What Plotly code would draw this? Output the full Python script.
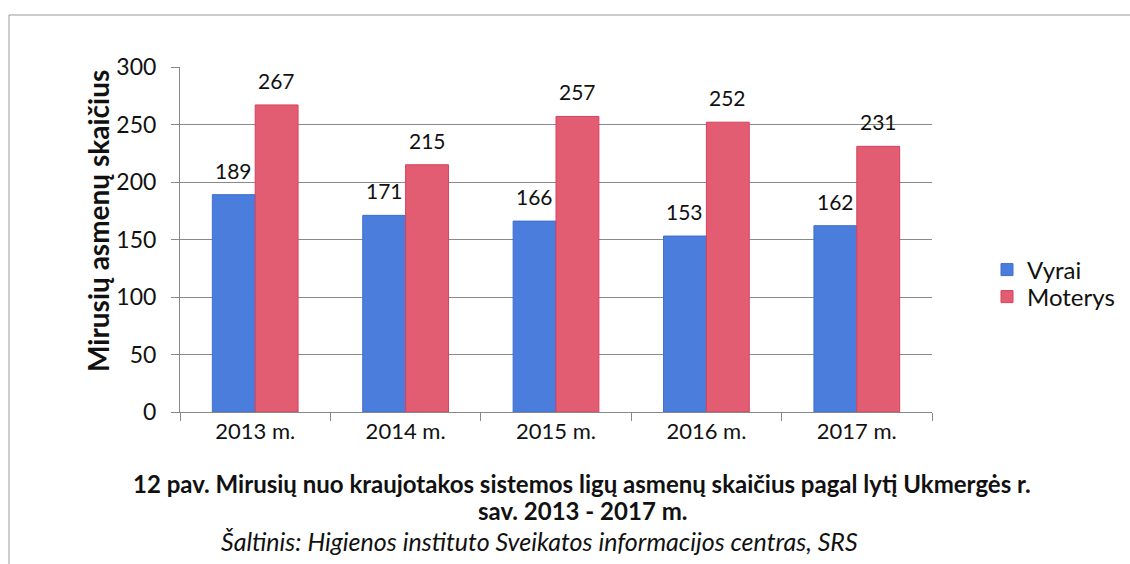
import plotly.graph_objects as go

categories = ["2013 m.", "2014 m.", "2015 m.", "2016 m.", "2017 m."]
vyrai = [189, 171, 166, 153, 162]
moterys = [267, 215, 257, 252, 231]
y_ticks = [0, 50, 100, 150, 200, 250, 300]

FONT = "Lato"
W, H = 1130, 564
L, R, T, B = 180, 198, 67, 152
pw, ph = W - L - R, H - T - B

def px(x):
    return (x - L) / pw

def py(y):
    return (H - B - y) / ph

fig = go.Figure()
fig.add_trace(go.Bar(
    name="Vyrai", x=categories, y=vyrai, legend="legend",
    marker=dict(color="#4a7ddc", line=dict(color="#3f6fd0", width=1)),
))
fig.add_trace(go.Bar(
    name="Moterys", x=categories, y=moterys, legend="legend2",
    marker=dict(color="#e25c72", line=dict(color="#d8405c", width=1)),
))

# value labels placed above bars through the category axis
label_anns = []
for series, shift in ((vyrai, -21.5), (moterys, 21.5)):
    for cat, val in zip(categories, series):
        label_anns.append(dict(
            x=cat, y=val, xref="x", yref="y", text=str(val),
            xshift=shift, yshift=10, yanchor="bottom", xanchor="center",
            showarrow=False, font=dict(size=21, family=FONT, color="#111"),
        ))

leg_common = dict(xanchor="left", yanchor="middle",
                  font=dict(size=24, family=FONT), bgcolor="rgba(0,0,0,0)",
                  itemwidth=30)

fig.update_layout(
    width=W, height=H,
    margin=dict(l=L, r=R, t=T, b=B, autoexpand=False),
    paper_bgcolor="white", plot_bgcolor="white",
    barmode="group", bargap=0.43, bargroupgap=0,
    font=dict(family=FONT, size=18, color="#111"),
    showlegend=True,
    legend=dict(x=px(987), y=py(270), **leg_common),
    legend2=dict(x=px(987), y=py(297), **leg_common),
    xaxis=dict(
        showline=True, linecolor="#888", linewidth=1,
        ticks="outside", ticklen=8, tickcolor="#888", tickson="boundaries",
        tickfont=dict(size=22, family=FONT), showgrid=False,
    ),
    yaxis=dict(
        range=[0, 300], tickvals=y_ticks,
        showline=True, linecolor="#888", linewidth=1,
        ticks="outside", ticklen=8, tickcolor="#888",
        showgrid=True, gridcolor="#8a8a8a", gridwidth=1,
        zeroline=False, tickfont=dict(size=23, family=FONT),
        ticklabelstandoff=10,
    ),
    annotations=label_anns + [
        dict(text="<b>Mirusių asmenų skaičius</b>", textangle=-90,
             x=px(98), y=py(221), xref="paper", yref="paper",
             xanchor="center", yanchor="middle",
             showarrow=False, font=dict(size=28, family=FONT)),
        dict(text="<b>12 pav. Mirusių nuo kraujotakos sistemos ligų asmenų skaičius pagal lytį Ukmergės r.</b>",
             x=px(582), y=py(484), xref="paper", yref="paper",
             xanchor="center", yanchor="middle",
             showarrow=False, font=dict(size=24, family=FONT)),
        dict(text="<b>sav. 2013 - 2017 m.</b>",
             x=px(582), y=py(510), xref="paper", yref="paper",
             xanchor="center", yanchor="middle",
             showarrow=False, font=dict(size=24, family=FONT)),
        dict(text="<i>Šaltinis: Higienos instituto Sveikatos informacijos centras, SRS</i>",
             x=px(539), y=py(541), xref="paper", yref="paper",
             xanchor="center", yanchor="middle",
             showarrow=False, font=dict(size=25, family=FONT)),
    ],
    shapes=[
        dict(type="line", xref="paper", yref="paper",
             x0=px(9), x1=px(1135), y0=py(15), y1=py(15),
             line=dict(color="#9a9a9a", width=1)),
        dict(type="line", xref="paper", yref="paper",
             x0=px(9), x1=px(9), y0=py(15), y1=py(570),
             line=dict(color="#9a9a9a", width=1)),
    ],
)

fig.write_html("out.html", config={"displayModeBar": False},
               post_script="document.body.style.margin='0px';")
